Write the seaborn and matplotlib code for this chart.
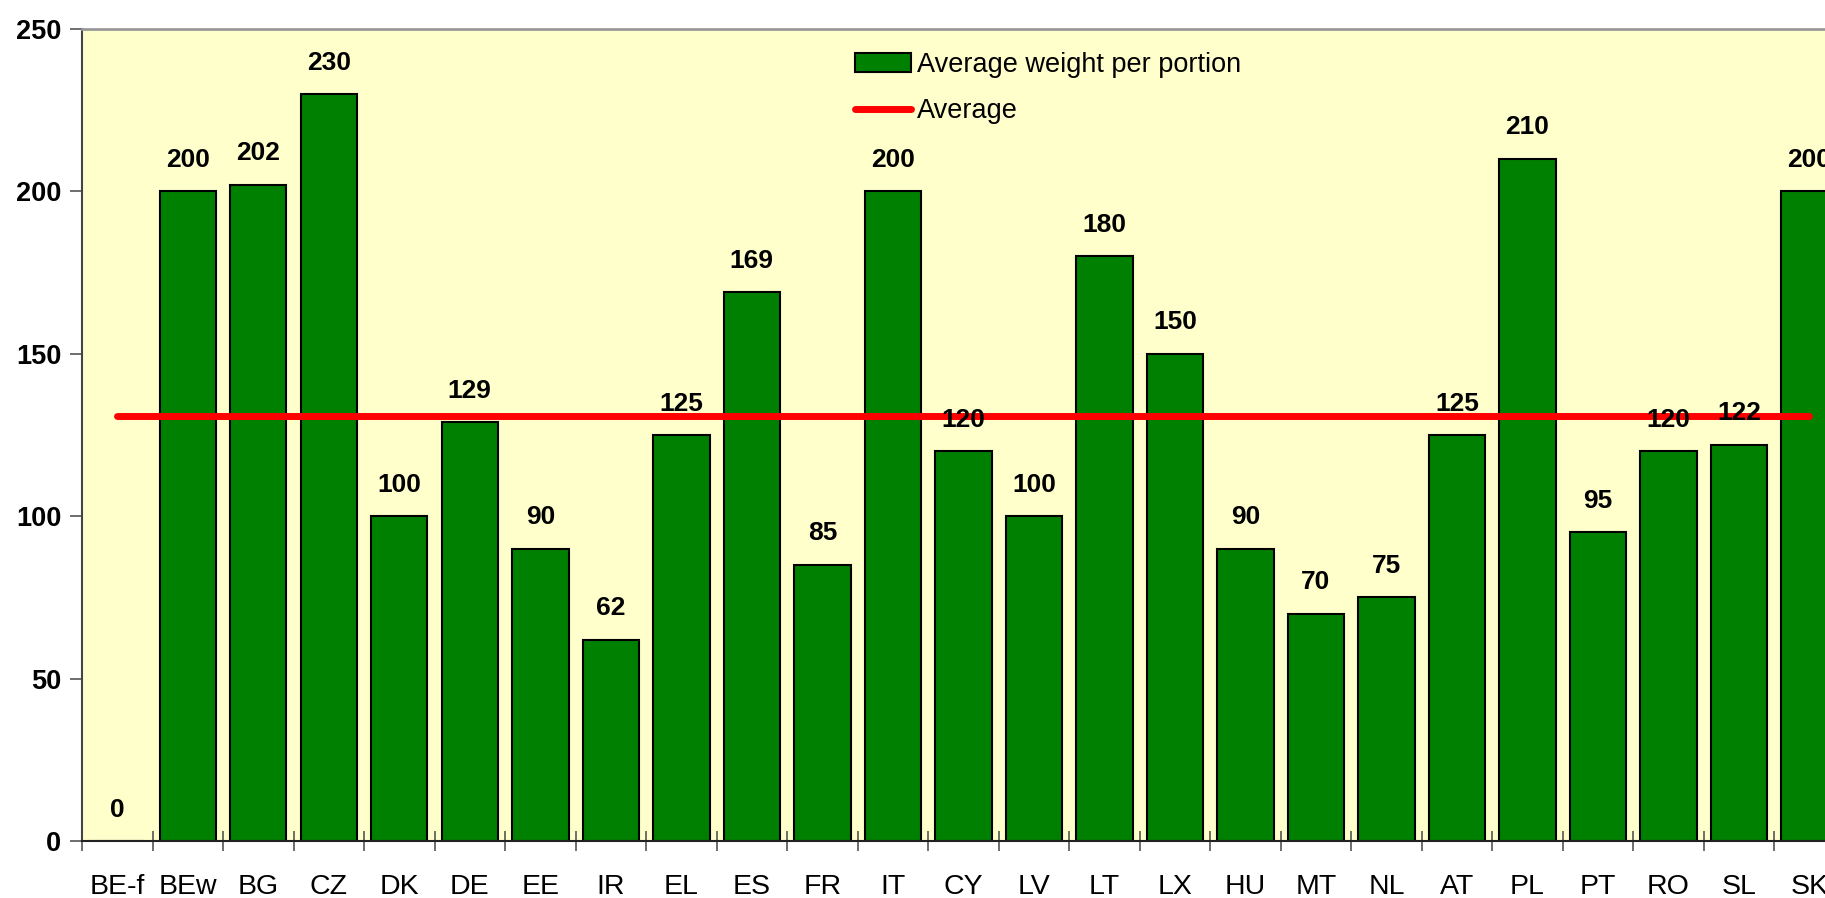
import numpy as np
import pandas as pd
import seaborn as sns
import matplotlib.pyplot as plt
from matplotlib.ticker import FixedLocator

# data
countries = ["BE-f", "BEw", "BG", "CZ", "DK", "DE", "EE", "IR", "EL", "ES",
             "FR", "IT", "CY", "LV", "LT", "LX", "HU", "MT", "NL", "AT",
             "PL", "PT", "RO", "SL", "SK"]
weights = [0, 200, 202, 230, 100, 129, 90, 62, 125, 169,
           85, 200, 120, 100, 180, 150, 90, 70, 75, 125,
           210, 95, 120, 122, 200]
average = 131
y_ticks = [0, 50, 100, 150, 200, 250]

df = pd.DataFrame({"country": countries, "weight": weights})
df["avg"] = average

sns.set_style("white")
plt.rcParams["font.family"] = ["Liberation Sans", "DejaVu Sans"]
plt.rcParams["text.color"] = "black"
plt.rcParams["xtick.labelcolor"] = "black"
plt.rcParams["ytick.labelcolor"] = "black"

fig = plt.figure(figsize=(18.25, 8.98), dpi=100)
ax = fig.add_axes([82 / 1825, 57 / 898, 1 - 82 / 1825, 812 / 898])
ax.set_facecolor("#FFFFCC")

sns.barplot(data=df, x="country", y="weight", color="#008000", saturation=1,
            edgecolor="black", linewidth=1.5, width=0.8, ax=ax,
            label="Average weight per portion", zorder=2)
sns.lineplot(x=np.arange(len(df)), y=df["avg"], color="#FF0000", linewidth=5,
             ax=ax, label="Average", zorder=3)

for i, v in enumerate(weights):
    ax.annotate(str(v), (i, v), xytext=(0, 14), textcoords="offset points",
                ha="center", va="bottom", fontsize=19, fontweight="bold")

ax.set_ylim(0, 250)
ax.set_xlim(-0.5, 24.22)
ax.set_yticks(y_ticks)
ax.set_yticklabels([str(t) for t in y_ticks], fontsize=19.5, fontweight="bold")
ax.set_xticks(range(len(countries)))
ax.set_xticklabels(countries, fontsize=20.5)
ax.xaxis.set_minor_locator(FixedLocator(np.arange(-0.5, len(countries), 1)))
ax.tick_params(axis="x", which="major", length=0, pad=24)
ax.tick_params(axis="x", which="minor", length=14, direction="inout",
               color="#555555", width=1.2, bottom=True)
ax.tick_params(axis="y", which="major", length=9, direction="out",
               color="#555555", width=1.2, left=True, pad=6)
ax.set_xlabel("")
ax.set_ylabel("")

ax.spines["right"].set_visible(False)
ax.spines["top"].set_color("#999999")
ax.spines["top"].set_linewidth(2)
ax.spines["left"].set_color("#444444")
ax.spines["bottom"].set_color("#222222")
ax.spines["left"].set_linewidth(1.5)
ax.spines["bottom"].set_linewidth(1.5)

handles, labels = ax.get_legend_handles_labels()
order = [labels.index("Average weight per portion"), labels.index("Average")]
ax.legend([handles[k] for k in order], [labels[k] for k in order],
          loc="upper left", bbox_to_anchor=(0.437, 0.985), frameon=False,
          fontsize=19.5, handlelength=2.1, handletextpad=0.2, labelspacing=0.75,
          borderaxespad=0)

fig.savefig("out.png", dpi=100)
